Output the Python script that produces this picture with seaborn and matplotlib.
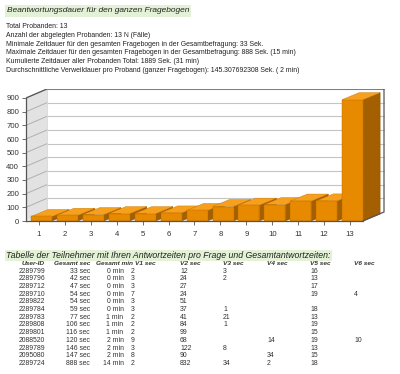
import matplotlib
matplotlib.use("Agg")
import matplotlib.pyplot as plt
import seaborn as sns
from matplotlib.patches import Polygon

# ---------------- data ----------------
probanden = [str(i) for i in range(1, 14)]
dauer_sec = [33, 42, 47, 54, 54, 59, 77, 106, 116, 120, 146, 147, 888]
y_ticks = [0, 100, 200, 300, 400, 500, 600, 700, 800, 900]

title = "Beantwortungsdauer für den ganzen Fragebogen"
info_lines = [
    "Total Probanden: 13",
    "Anzahl der abgelegten Probanden: 13 N (Fälle)",
    "Minimale Zeitdauer für den gesamten Fragebogen in der Gesamtbefragung: 33 Sek.",
    "Maximale Zeitdauer für den gesamten Fragebogen in der Gesamtbefragung: 888 Sek. (15 min)",
    "Kumulierte Zeitdauer aller Probanden Total: 1889 Sek. (31 min)",
    "Durchschnittliche Verweildauer pro Proband (ganzer Fragebogen): 145.307692308 Sek. ( 2 min)",
]
table_title = "Tabelle der Teilnehmer mit Ihren Antwortzeiten pro Frage und Gesamtantwortzeiten:"
table_header = ["User-ID", "Gesamt sec", "Gesamt min", "V1 sec", "V2 sec",
                "V3 sec", "V4 sec", "V5 sec", "V6 sec"]
user_ids = ["2289799", "2289796", "2289712", "2289710", "2289822", "2289784", "2289783",
            "2289808", "2289801", "2088520", "2289789", "2095080", "2289724"]
gesamt_sec = [33, 42, 47, 54, 54, 59, 77, 106, 116, 120, 146, 147, 888]
gesamt_min = [0, 0, 0, 0, 0, 0, 1, 1, 1, 2, 2, 2, 14]
v1 = [2, 3, 3, 7, 3, 3, 2, 2, 2, 9, 3, 8, 2]
v2 = [12, 24, 27, 24, 51, 37, 41, 84, 99, 68, 122, 90, 832]
v3 = [3, 2, "", "", "", 1, 21, 1, "", "", 8, "", 34]
v4 = ["", "", "", "", "", "", "", "", "", 14, "", 34, 2]
v5 = [16, 13, 17, 19, "", 18, 13, 19, 15, 19, 13, 15, 18]
v6 = ["", "", "", 4, "", "", "", "", "", 10, "", "", ""]

# ---------------- figure ----------------
W, H = 400, 374
sns.set_style("white")
plt.rcParams["font.family"] = ["Liberation Sans", "DejaVu Sans"]
fig = plt.figure(figsize=(W / 100, H / 100), dpi=100)
fig.patch.set_facecolor("white")
renderer = fig.canvas.get_renderer()


def fx(x):
    return x / W


def fy(y):
    return 1 - y / H


def fit_size(s, width, **kw):
    t = fig.text(0, 0, s, fontsize=10, **kw)
    w = t.get_window_extent(renderer).width
    t.remove()
    return 10 * width / w


def fit_text(s, x, y, width, ha="left", **kw):
    bbox = kw.pop("bbox", None)
    size = fit_size(s, width, **kw)
    return fig.text(fx(x), fy(y), s, ha=ha, va="center", fontsize=size, bbox=bbox, **kw)


TXT = "#222222"
GREEN = "#e3f1d6"

# title
fit_text(title, 7, 11, 185, style="italic", color=TXT,
         bbox=dict(boxstyle="square,pad=0.25", fc=GREEN, ec="none"))

# info lines - size fitted on longest line
longest = max(info_lines, key=len)
info_size = fit_size(longest, 296)
info_y = [27, 35.5, 44.2, 53, 61.8, 70.6]
for s, yy in zip(info_lines, info_y):
    fig.text(fx(6), fy(yy), s, ha="left", va="center", fontsize=info_size, color=TXT)

# ---------------- chart ----------------
ax = fig.add_axes([fx(26), fy(221), (385 - 26) / W, (221 - 89) / H])
unit = 337 / 13.0
px_per_val = 123 / 900.0
xmin = -0.5
xmax = -0.5 + (385 - 26) / unit
ymax = (221 - 89) / px_per_val
ddx, ddy = 21 / unit, 9 / px_per_val       # wall depth
bdx, bdy = 17 / unit, 7 / px_per_val       # bar depth

FRONT = "#e88a00"
TOP = "#f6a01e"
SIDE = "#a45f00"

sns.barplot(x=probanden, y=dauer_sec, color=FRONT, saturation=1, width=0.81,
            edgecolor="#b86c00", linewidth=0.3, ax=ax, zorder=5)
ax.set_xlim(xmin, xmax)
ax.set_ylim(0, ymax)
ax.set_xlabel("")
ax.set_ylabel("")

top_val = y_ticks[-1]
right = len(probanden) - 0.5

# walls
ax.add_patch(Polygon([(xmin, 0), (xmin + ddx, ddy), (xmin + ddx, top_val + ddy), (xmin, top_val)],
                     closed=True, fc="#e2e2e2", ec="none", zorder=0.5))
ax.add_patch(Polygon([(xmin + ddx, ddy), (right + ddx, ddy), (right + ddx, top_val + ddy),
                      (xmin + ddx, top_val + ddy)], closed=True, fc="white", ec="none", zorder=0.4))
ax.add_patch(Polygon([(xmin, 0), (right, 0), (right + ddx, ddy), (xmin + ddx, ddy)],
                     closed=True, fc="#eef6f8", ec="none", zorder=0.6))
for t in y_ticks[1:]:
    ax.plot([xmin + ddx, right + ddx], [t + ddy, t + ddy], color="#c4c4c4", lw=0.8, zorder=0.7)
    ax.plot([xmin, xmin + ddx], [t, t + ddy], color="#b0b0b0", lw=0.7, zorder=0.7)
    ax.plot([right + ddx, right + ddx + 0.1], [t + ddy, t + ddy], color="#d0d0d0", lw=0.6, zorder=0.7)
ax.plot([xmin + ddx, xmin + ddx], [ddy, top_val + ddy], color="#d6d6d6", lw=0.6, zorder=0.7)
# frame
FR = "#555555"
ax.plot([xmin, xmin + ddx, right + ddx, right + ddx, right],
        [top_val, top_val + ddy, top_val + ddy, ddy, 0], color=FR, lw=0.9, zorder=20,
        solid_joinstyle="miter")

# 3d bars
for i, p in enumerate(ax.patches[:len(dauer_sec)]):
    p.set_x(p.get_x() + 0.1)
    x0 = p.get_x()
    x1 = x0 + p.get_width()
    h = p.get_height()
    z = 5 + i * 0.1
    ax.add_patch(Polygon([(x1, 0), (x1 + bdx, bdy), (x1 + bdx, h + bdy), (x1, h)],
                         closed=True, fc=SIDE, ec="#8a5000", lw=0.3, zorder=z))
    ax.add_patch(Polygon([(x0, h), (x1, h), (x1 + bdx, h + bdy), (x0 + bdx, h + bdy)],
                         closed=True, fc=TOP, ec="#c87800", lw=0.3, zorder=z + 0.01))
    p.set_zorder(z + 0.02)

for s in ax.spines.values():
    s.set_visible(False)
for side in ("left", "bottom"):
    sp = ax.spines[side]
    sp.set_visible(True)
    sp.set_color(FR)
    sp.set_linewidth(0.9)
    sp.set_zorder(20)
ax.spines["left"].set_bounds(0, top_val)
ax.spines["bottom"].set_bounds(xmin, right)
ax.set_yticks(y_ticks)
ax.set_yticklabels([str(t) for t in y_ticks])
ax.set_xticks(range(len(probanden)))
ax.set_xticklabels(probanden)
ax.tick_params(axis="both", length=3, width=0.6, color=FR, labelsize=5.6,
               labelcolor="#333333", pad=2, left=True, bottom=True)
ax.tick_params(axis="x", pad=4)
ax.set_facecolor("none")

# ---------------- table ----------------
fit_text(table_title, 6, 255.5, 325, style="italic", color=TXT,
         bbox=dict(boxstyle="square,pad=0.15", fc=GREEN, ec="none"))

HDR = "#333333"
hs = fit_size("Gesamt min", 37, style="italic", weight="bold")
hy = 263.5
hdr_pos = [(45, "right"), (90, "right"), (96, "left"), (135, "left"), (180, "left"),
           (223, "left"), (267, "left"), (310, "left"), (354, "left")]
for lab, (xx, ha) in zip(table_header, hdr_pos):
    fig.text(fx(xx), fy(hy), lab, ha=ha, va="center", fontsize=hs, style="italic",
             weight="bold", color=HDR)

ds = fit_size("2289799", 27)
row_y0, row_dy = 271.2, 7.68
for r in range(len(user_ids)):
    yy = fy(row_y0 + r * row_dy)
    cells = [
        (45, "right", user_ids[r]),
        (90, "right", f"{gesamt_sec[r]} sec"),
        (123.5, "right", f"{gesamt_min[r]} min"),
        (130.5, "left", str(v1[r])),
        (180, "left", str(v2[r])),
        (223, "left", str(v3[r])),
        (267, "left", str(v4[r])),
        (310, "left", str(v5[r])),
        (354, "left", str(v6[r])),
    ]
    for xx, ha, s in cells:
        if s:
            fig.text(fx(xx), yy, s, ha=ha, va="center", fontsize=ds, color=HDR)

fig.savefig("out.png", dpi=100, facecolor="white")
